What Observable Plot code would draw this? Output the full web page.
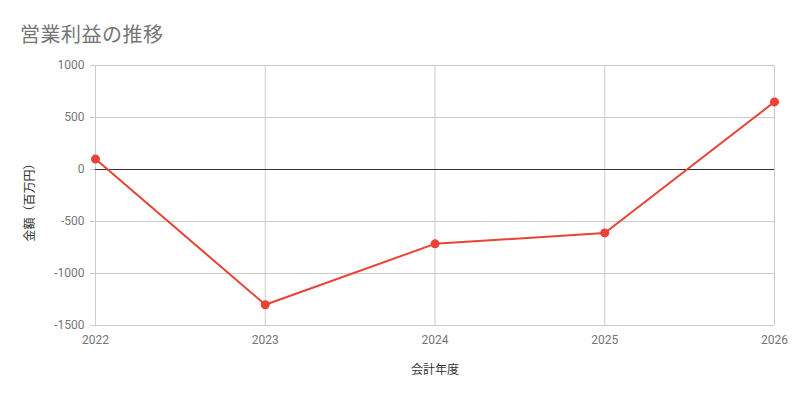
<!DOCTYPE html>
<html>
<head>
<meta charset="utf-8">
<script src="https://cdn.jsdelivr.net/npm/d3@7"></script>
<script src="https://cdn.jsdelivr.net/npm/@observablehq/plot@0.6"></script>
<style>
  html, body { margin: 0; padding: 0; background: #fff; }
  #wrap { position: relative; width: 800px; height: 400px; font-family: Roboto, "Noto Sans CJK JP", sans-serif; }
  #title { position: absolute; left: 20px; top: 19px; font-size: 20px; color: #757575; font-family: Roboto, "Noto Sans CJK JP", sans-serif; letter-spacing: 0.5px; }
  #chart { position: absolute; left: 0; top: 0; }
</style>
</head>
<body>
<div id="wrap">
  <div id="chart"></div>
  <div id="title">営業利益の推移</div>
</div>
<script>
const years = [2022, 2023, 2024, 2025, 2026];
const profits = [100, -1300, -715, -610, 650];
const yTicks = [-1500, -1000, -500, 0, 500, 1000];
const xLabel = "会計年度";
const yLabel = "金額（百万円）";

const data = years.map((y, i) => ({year: y, value: profits[i]}));

const chart = Plot.plot({
  width: 800,
  height: 400,
  marginLeft: 95,
  marginRight: 26,
  marginTop: 65,
  marginBottom: 75,
  style: {fontFamily: "Roboto, 'Noto Sans CJK JP', sans-serif", fontSize: "12px", color: "#757575", background: "#fff"},
  x: {domain: [2022, 2026], ticks: years, tickFormat: d => String(d), label: null},
  y: {domain: [-1500, 1000], ticks: yTicks, label: null},
  marks: [
    Plot.gridY(yTicks, {stroke: "#cccccc", strokeOpacity: 1}),
    Plot.gridX(years, {stroke: "#cccccc", strokeOpacity: 1}),
    Plot.axisY(yTicks, {tickSize: 5, tickPadding: 6, stroke: "#cccccc", fill: "#757575", fontSize: 12, label: null, tickFormat: d => String(d)}),
    Plot.axisX(years, {tickSize: 0, tickPadding: 10, fill: "#757575", fontSize: 12, label: null, tickFormat: d => String(d)}),
    Plot.ruleY([0], {stroke: "#333333", strokeWidth: 1}),
    Plot.line(data, {x: "year", y: "value", stroke: "#ea4335", strokeWidth: 2}),
    Plot.dot(data, {x: "year", y: "value", fill: "#ea4335", r: 4.5}),
    Plot.text([xLabel], {frameAnchor: "bottom", dy: 48, text: d => d, fill: "#333", fontSize: 12}),
    Plot.text([yLabel], {frameAnchor: "left", textAnchor: "middle", dx: -65, dy: 4, rotate: -90, text: d => d, fill: "#333", fontSize: 12})
  ]
});
document.getElementById("chart").appendChild(chart);
</script>
</body>
</html>
